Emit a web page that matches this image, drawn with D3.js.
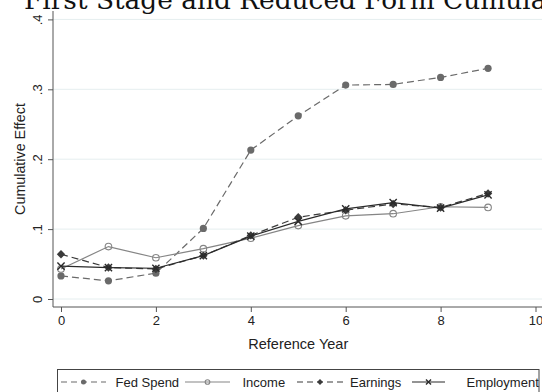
<!DOCTYPE html>
<html>
<head>
<meta charset="utf-8">
<script src="https://cdn.jsdelivr.net/npm/d3@7"></script>
<style>
  html, body { margin: 0; padding: 0; background: #fff; overflow: hidden; }
  svg { display: block; }
</style>
</head>
<body>
<div id="chart"></div>
<script>
// Reference years and cumulative effects per outcome
const years = [0, 1, 2, 3, 4, 5, 6, 7, 8, 9];
const fedSpend   = [0.033, 0.026, 0.037, 0.101, 0.213, 0.262, 0.306, 0.307, 0.317, 0.330];
const income     = [0.043, 0.075, 0.059, 0.072, 0.087, 0.105, 0.119, 0.122, 0.132, 0.131];
const earnings   = [0.064, 0.045, 0.043, 0.062, 0.091, 0.117, 0.127, 0.136, 0.131, 0.151];
const employment = [0.047, 0.045, 0.044, 0.062, 0.090, 0.111, 0.129, 0.138, 0.130, 0.149];
const seriesNames = ["Fed Spend", "Income", "Earnings", "Employment"];
const xTicks = [0, 2, 4, 6, 8, 10];
const yTicks = [0, 0.1, 0.2, 0.3, 0.4];
const yTickLabels = ["0", ".1", ".2", ".3", ".4"];

const W = 542, H = 392;
const svg = d3.select("#chart").append("svg").attr("width", W).attr("height", H);

// plot region
const plot = { left: 53, right: 543.5, top: 11, bottom: 307 };
const x = d3.scaleLinear().domain([0, 10]).range([61, 535.5]);
const y = d3.scaleLinear().domain([0, 0.4]).range([299, 19.4]);

const sansFont = "'Liberation Sans', Arial, Helvetica, sans-serif";

// title (runs past the top and right edges)
svg.append("text")
  .attr("x", 24).attr("y", 8.5)
  .attr("font-family", "'DejaVu Serif', serif")
  .attr("font-size", 26.4)
  .attr("fill", "#111")
  .text("First Stage and Reduced Form Cumulative Effects");

// gridlines
svg.append("g").selectAll("line").data(yTicks).join("line")
  .attr("x1", plot.left).attr("x2", plot.right)
  .attr("y1", d => y(d)).attr("y2", d => y(d))
  .attr("stroke", "#e5eeef").attr("stroke-width", 1);

// y axis
const yAxis = d3.axisLeft(y).tickValues(yTicks).tickSize(5)
  .tickFormat((d, i) => yTickLabels[i]);
const gy = svg.append("g").attr("transform", `translate(${plot.left},0)`).call(yAxis);
gy.select(".domain").attr("d", `M0,${plot.top}V${plot.bottom}`).attr("stroke", "#555");
gy.selectAll(".tick line").attr("stroke", "#555");
gy.selectAll(".tick text")
  .attr("font-family", sansFont).attr("font-size", 13).attr("fill", "#222")
  .attr("x", null).attr("dy", null)
  .attr("text-anchor", "middle")
  .attr("transform", "translate(-11,0) rotate(-90)");

// x axis
const xAxis = d3.axisBottom(x).tickValues(xTicks).tickSize(5).tickFormat(d3.format("d"));
const gx = svg.append("g").attr("transform", `translate(0,${plot.bottom})`).call(xAxis);
gx.select(".domain").attr("d", `M${plot.left},0H${plot.right}`).attr("stroke", "#555");
gx.selectAll(".tick line").attr("stroke", "#555");
gx.selectAll(".tick text")
  .attr("font-family", sansFont).attr("font-size", 13).attr("fill", "#222")
  .attr("y", 18).attr("dy", null);

// axis titles
svg.append("text")
  .attr("transform", `translate(25,${(plot.top + plot.bottom) / 2}) rotate(-90)`)
  .attr("text-anchor", "middle")
  .attr("font-family", sansFont).attr("font-size", 14.3).attr("fill", "#222")
  .text("Cumulative Effect");
svg.append("text")
  .attr("x", (plot.left + plot.right) / 2).attr("y", 349)
  .attr("text-anchor", "middle")
  .attr("font-family", sansFont).attr("font-size", 14.5).attr("fill", "#222")
  .text("Reference Year");

// marker painters
function drawMarker(g, kind, cx, cy, s, color) {
  if (kind === "circle") {
    g.append("circle").attr("cx", cx).attr("cy", cy).attr("r", s).attr("fill", color);
  } else if (kind === "hollow") {
    g.append("circle").attr("cx", cx).attr("cy", cy).attr("r", s)
      .attr("fill", "none").attr("stroke", color).attr("stroke-width", 1.1);
  } else if (kind === "diamond") {
    g.append("path")
      .attr("d", `M${cx},${cy - s}L${cx + s},${cy}L${cx},${cy + s}L${cx - s},${cy}Z`)
      .attr("fill", color);
  } else if (kind === "x") {
    g.append("path")
      .attr("d", `M${cx - s},${cy - s}L${cx + s},${cy + s}M${cx - s},${cy + s}L${cx + s},${cy - s}`)
      .attr("stroke", color).attr("stroke-width", 1.4).attr("fill", "none");
  }
}

const series = [
  { name: seriesNames[0], values: fedSpend,   color: "#6a6a6a", dash: "7,4", marker: "circle",  size: 3.6 },
  { name: seriesNames[1], values: income,     color: "#858585", dash: null,  marker: "hollow",  size: 3.3 },
  { name: seriesNames[2], values: earnings,   color: "#3b3b3b", dash: "7,4", marker: "diamond", size: 4.2 },
  { name: seriesNames[3], values: employment, color: "#2b2b2b", dash: null,  marker: "x",       size: 3.6 }
];

const line = d3.line().x((d, i) => x(years[i])).y(d => y(d));
series.forEach(s => {
  const g = svg.append("g");
  g.append("path").datum(s.values)
    .attr("d", line)
    .attr("fill", "none").attr("stroke", s.color).attr("stroke-width", 1.2)
    .attr("stroke-dasharray", s.dash);
  s.values.forEach((v, i) => drawMarker(g, s.marker, x(years[i]), y(v), s.size, s.color));
});

// legend
const legend = svg.append("g");
legend.append("rect")
  .attr("x", 57.5).attr("y", 369.5).attr("width", 481.5).attr("height", 40)
  .attr("fill", "#fff").attr("stroke", "#444").attr("stroke-width", 1);
const legendItems = [
  { x0: 61, x1: 106, textX: 115.5 },
  { x0: 185, x1: 230, textX: 242.5 },
  { x0: 297, x1: 343, textX: 350 },
  { x0: 412, x1: 445, textX: 466.5 }
];
series.forEach((s, i) => {
  const it = legendItems[i];
  const ly = 382;
  legend.append("line")
    .attr("x1", it.x0).attr("x2", it.x1).attr("y1", ly).attr("y2", ly)
    .attr("stroke", s.color).attr("stroke-width", 1.1)
    .attr("stroke-dasharray", s.dash ? "6,4" : null);
  drawMarker(legend, s.marker, (it.x0 + it.x1) / 2, ly, s.size * 0.7, s.color);
  legend.append("text")
    .attr("x", it.textX).attr("y", 387)
    .attr("font-family", sansFont).attr("font-size", 13).attr("fill", "#222")
    .text(s.name);
});
</script>
</body>
</html>
